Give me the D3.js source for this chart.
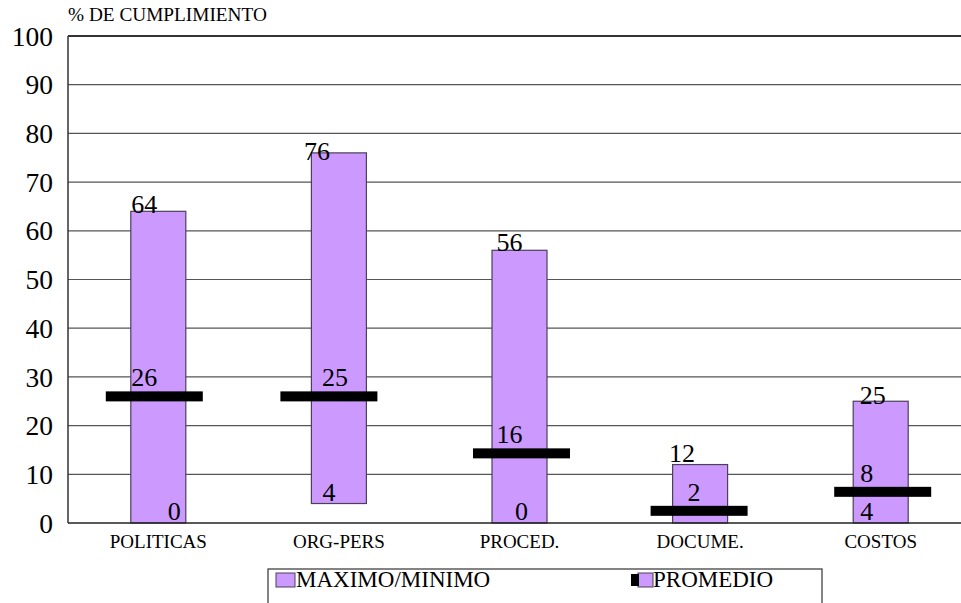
<!DOCTYPE html>
<html>
<head>
<meta charset="utf-8">
<script src="https://cdn.jsdelivr.net/npm/d3@7"></script>
<style>
  html, body { margin: 0; padding: 0; background: #fff; }
  svg, svg text { font-family: 'Liberation Serif', 'Times New Roman', Tinos, 'DejaVu Serif', serif; }
</style>
</head>
<body>
<svg id="chart" width="961" height="603"></svg>
<script>
// ---- data ----
const categories = ["POLITICAS", "ORG-PERS", "PROCED.", "DOCUME.", "COSTOS"];
const maxValues = [64, 76, 56, 12, 25];
const minValues = [0, 4, 0, 0, 0];
const minLabels = ["0", "4", "0", "", "4"];
const promedioMarks = [26, 26, 14.3, 2.5, 6.4];
const promedioLabels = ["26", "25", "16", "2", "8"];
const yTicks = [0, 10, 20, 30, 40, 50, 60, 70, 80, 90, 100];
const seriesNames = ["MAXIMO/MINIMO", "PROMEDIO"];

// ---- layout (label nudges, as in the reference) ----
const maxLabelDx = [-14, -22, -10, -18, -8];
const maxLabelDy = [2, 7, 1, -3, 3];
const minLabelDx = [16, -10, 2, 0, -14];
const promLabelDx = [-14, -4, -10, -6, -14];
const markerDx = [-4, -10, 2, -1, 2];

(function () {
const FONT = "'Liberation Serif', 'Times New Roman', Tinos, 'DejaVu Serif', serif";
const purple = "#CC99FF";
const svg = d3.select("#chart").attr("font-family", FONT);
const pLeft = 68, pRight = 971, pTop = 36, pBottom = 523;

const x = d3.scaleBand().domain(categories).range([pLeft, pRight]).paddingInner(0).paddingOuter(0);
const y = d3.scaleLinear().domain([0, 100]).range([pBottom, pTop]);
const barW = 55, markW = 97, markH = 10;

// gridlines
svg.append("g").selectAll("line").data(yTicks.filter(d => d > 0)).join("line")
  .attr("x1", pLeft).attr("x2", 961)
  .attr("y1", d => y(d)).attr("y2", d => y(d))
  .attr("stroke", d => d === 100 ? "#333" : "#555")
  .attr("stroke-width", d => d === 100 ? 2 : 1.2);

// y tick labels
svg.append("g").selectAll("text").data(yTicks).join("text")
  .attr("x", 53).attr("y", d => y(d))
  .attr("dy", "0.35em")
  .attr("text-anchor", "end")
  .attr("font-family", FONT)
  .attr("font-size", 27.5)
  .attr("fill", "#000")
  .text(d => d);

// title
svg.append("text").attr("x", 68).attr("y", 21)
  .attr("font-family", FONT)
  .attr("font-size", 19.3).attr("fill", "#000")
  .text("% DE CUMPLIMIENTO");

// bars (max/min)
svg.append("g").selectAll("rect").data(categories).join("rect")
  .attr("x", (d) => x(d) + x.bandwidth() / 2 - barW / 2)
  .attr("y", (d, i) => y(maxValues[i]))
  .attr("width", barW)
  .attr("height", (d, i) => y(minValues[i]) - y(maxValues[i]))
  .attr("fill", purple)
  .attr("stroke", "#4a4058")
  .attr("stroke-width", 1.2);

// axes lines
svg.append("line").attr("x1", pLeft).attr("x2", pLeft).attr("y1", pTop).attr("y2", pBottom)
  .attr("stroke", "#333").attr("stroke-width", 1.5);
svg.append("line").attr("x1", pLeft).attr("x2", 961).attr("y1", pBottom).attr("y2", pBottom)
  .attr("stroke", "#222").attr("stroke-width", 1.5);

// promedio markers
svg.append("g").selectAll("rect").data(categories).join("rect")
  .attr("x", (d, i) => x(d) + x.bandwidth() / 2 - markW / 2 + markerDx[i])
  .attr("y", (d, i) => y(promedioMarks[i]) - markH / 2)
  .attr("width", markW).attr("height", markH)
  .attr("fill", "#000");

// labels
const lbl = svg.append("g").attr("font-family", FONT).attr("font-size", 26).attr("fill", "#000").attr("text-anchor", "middle");
lbl.selectAll("text.max").data(categories).join("text").attr("class", "max")
  .attr("x", (d, i) => x(d) + x.bandwidth() / 2 + maxLabelDx[i])
  .attr("y", (d, i) => y(maxValues[i]) + maxLabelDy[i])
  .text((d, i) => maxValues[i]);
lbl.selectAll("text.min").data(categories).join("text").attr("class", "min")
  .attr("x", (d, i) => x(d) + x.bandwidth() / 2 + minLabelDx[i])
  .attr("y", (d, i) => y(minValues[i]) - 3)
  .text((d, i) => minLabels[i]);
lbl.selectAll("text.prom").data(categories).join("text").attr("class", "prom")
  .attr("x", (d, i) => x(d) + x.bandwidth() / 2 + promLabelDx[i])
  .attr("y", (d, i) => y(promedioMarks[i]) - 10)
  .text((d, i) => promedioLabels[i]);

// category labels
svg.append("g").selectAll("text").data(categories).join("text")
  .attr("x", d => x(d) + x.bandwidth() / 2)
  .attr("y", 548)
  .attr("text-anchor", "middle")
  .attr("font-family", FONT)
  .attr("font-size", 19)
  .attr("fill", "#000")
  .text(d => d);

// legend
svg.append("rect").attr("x", 268).attr("y", 569).attr("width", 554).attr("height", 50)
  .attr("fill", "#fff").attr("stroke", "#333").attr("stroke-width", 1.2);
svg.append("rect").attr("x", 276).attr("y", 573).attr("width", 19).attr("height", 14)
  .attr("fill", purple).attr("stroke", "#4a4058").attr("stroke-width", 1);
svg.append("text").attr("x", 296).attr("y", 587).attr("font-family", FONT).attr("font-size", 23).attr("fill", "#000").text(seriesNames[0]);
svg.append("rect").attr("x", 638).attr("y", 573).attr("width", 15).attr("height", 14)
  .attr("fill", purple).attr("stroke", "#4a4058").attr("stroke-width", 1);
svg.append("rect").attr("x", 631).attr("y", 574).attr("width", 8).attr("height", 12).attr("fill", "#000");
svg.append("text").attr("x", 653).attr("y", 587).attr("font-family", FONT).attr("font-size", 23).attr("fill", "#000").text(seriesNames[1]);
})();
</script>
</body>
</html>
